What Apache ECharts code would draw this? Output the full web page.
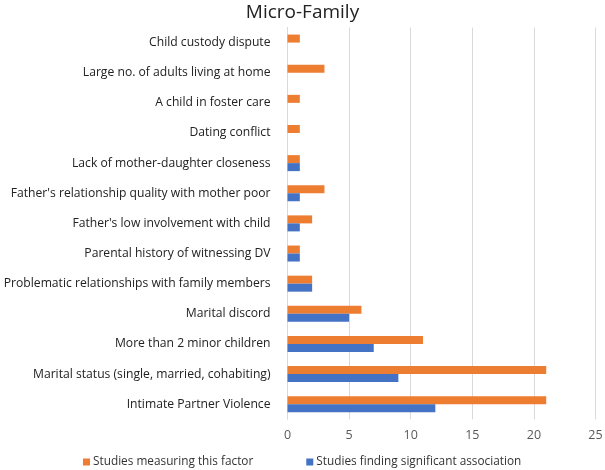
<!DOCTYPE html>
<html><head><meta charset="utf-8">
<script src="https://cdn.jsdelivr.net/npm/echarts@6/dist/echarts.min.js"></script>
<style>html,body{margin:0;padding:0;background:#fff}#c{width:605px;height:470px}</style>
</head><body><div id="c"></div>
<script>
const categories = [
  "Intimate Partner Violence",
  "Marital status (single, married, cohabiting)",
  "More than 2 minor children",
  "Marital discord",
  "Problematic relationships with family members",
  "Parental history of witnessing DV",
  "Father's low involvement with child",
  "Father's relationship quality with mother poor",
  "Lack of mother-daughter closeness",
  "Dating conflict",
  "A child in foster care",
  "Large no. of adults living at home",
  "Child custody dispute"
];
const measuring = [21, 21, 11, 6, 2, 1, 2, 3, 1, 1, 1, 3, 1];
const significant = [12, 9, 7, 5, 2, 1, 1, 1, 1, 0, 0, 0, 0];
const xTicks = [0, 5, 10, 15, 20, 25];
const FONT = "Open Sans";
const chart = echarts.init(document.getElementById('c'));
chart.setOption({
  animation: false,
  textStyle: { fontFamily: FONT },
  title: { text: "Micro-Family", left: 'center', top: -2,
    textStyle: { fontFamily: FONT, fontSize: 19, fontWeight: 'normal', color: '#222' } },
  legend: { data: ["Studies measuring this factor", "Studies finding significant association"],
    bottom: -3, left: 78, itemWidth: 7, itemHeight: 7, itemGap: 53, icon: 'rect',
    textStyle: { fontFamily: FONT, fontSize: 11.8, color: '#333', padding: [0, 0, 0, -2] } },
  grid: { left: 287.5, right: 9.5, top: 27.5, bottom: 50.7, outerBoundsMode: 'none' },
  xAxis: { type: 'value', min: 0, max: 25, interval: 5,
    axisLine: { show: false }, axisTick: { show: false },
    splitLine: { lineStyle: { color: '#d9d9d9', width: 1 } },
    axisLabel: { fontFamily: FONT, fontSize: 12.5, color: '#595959', margin: 10,
      formatter: v => xTicks.includes(v) ? String(v) : '' } },
  yAxis: { type: 'category', data: categories,
    axisLine: { show: true, lineStyle: { color: '#d9d9d9' } }, axisTick: { show: false },
    axisLabel: { fontFamily: FONT, fontSize: 12.15, color: '#222', margin: 17 } },
  series: [
    { name: "Studies measuring this factor", type: 'bar', data: measuring,
      barWidth: 8, barGap: '0%', itemStyle: { color: '#ED7D31' } },
    { name: "Studies finding significant association", type: 'bar', data: significant,
      barWidth: 8, barGap: '0%', itemStyle: { color: '#4472C4' } }
  ]
});
</script></body></html>
